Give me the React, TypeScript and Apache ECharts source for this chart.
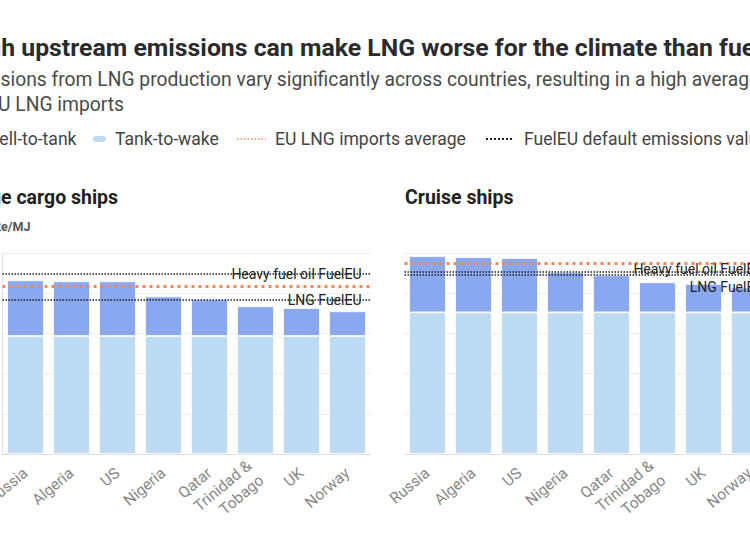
import React, { useEffect, useRef } from "react";
import * as echarts from "echarts";

const categories = ["Russia", "Algeria", "US", "Nigeria", "Qatar", "Trinidad &\nTobago", "UK", "Norway"];

const cargoTankToWake = [58.7, 58.7, 58.7, 58.7, 58.7, 58.7, 58.7, 58.7];
const cargoWellToTank = [27.7, 27.2, 27.2, 19.7, 18.2, 14.8, 13.9, 12.3];
const cruiseTankToWake = [70.5, 70.5, 70.5, 70.5, 70.5, 70.5, 70.5, 70.5];
const cruiseWellToTank = [27.9, 27.4, 27.0, 20.0, 18.4, 14.9, 14.1, 12.3];

// reference lines: [EU LNG imports average, Heavy fuel oil FuelEU, LNG FuelEU]
const cargoRefs = [83.6, 89.8, 76.5];
const cruiseRefs = [94.7, 90.6, 89.0];

const yTicks = [0, 20, 40, 60, 80, 100];

const TITLE = "High upstream emissions can make LNG worse for the climate than fuel oil";
const SUBTITLE_1 = "Emissions from LNG production vary significantly across countries, resulting in a high average";
const SUBTITLE_2 = "for EU LNG imports";
const PANEL_TITLES = ["Large cargo ships", "Cruise ships"];
const UNIT = "gCO2e/MJ";
const LEGEND = ["Well-to-tank", "Tank-to-wake", "EU LNG imports average", "FuelEU default emissions values"];

const C_WTT = "#89a8f0";
const C_TTW = "#bedbf4";
const C_ORANGE = "#f0885a";
const C_BLACK = "#1f1f1f";
const FONT = "Roboto";

function refLines(refs: number[], cruise: boolean) {
  const lbl = { color: "#222", fontSize: 14, fontFamily: FONT };
  return {
    silent: true,
    symbol: ["none", "none"],
    z: 5,
    data: [
      {
        yAxis: refs[0],
        lineStyle: { color: C_ORANGE, width: 3, type: [3, 4] },
        label: { show: false },
      },
      {
        yAxis: refs[1],
        lineStyle: { color: C_BLACK, width: 1.5, type: [1.5, 1.5] },
        label: {
          show: true,
          formatter: "Heavy fuel oil FuelEU",
          position: cruise ? "insideEndTop" : "insideEnd",
          distance: cruise ? [9, -4] : [9, 0],
          ...lbl,
        },
      },
      {
        yAxis: refs[2],
        lineStyle: { color: C_BLACK, width: 1.5, type: [1.5, 1.5] },
        label: {
          show: true,
          formatter: "LNG FuelEU",
          position: cruise ? "insideEndBottom" : "insideEnd",
          distance: cruise ? [9, 5] : [9, 0],
          ...lbl,
        },
      },
    ],
  };
}

export default function App() {
  const ref = useRef<HTMLDivElement>(null);

  useEffect(() => {
    if (!ref.current) return;
    const chart = echarts.init(ref.current, null, { renderer: "svg" });

    const axisX = (i: number) => ({
      type: "category",
      gridIndex: i,
      data: categories,
      axisLine: { lineStyle: { color: "#dcdcdc" } },
      axisTick: { alignWithLabel: true, length: 5, lineStyle: { color: "#dcdcdc" } },
      axisLabel: {
        rotate: 40,
        interval: 0,
        color: "#888888",
        fontSize: 15.5,
        fontFamily: FONT,
        margin: 17,
        lineHeight: 19,
        hideOverlap: false,
      },
    });
    const axisY = (i: number) => ({
      type: "value",
      gridIndex: i,
      min: yTicks[0],
      max: yTicks[yTicks.length - 1],
      interval: yTicks[1] - yTicks[0],
      axisLabel: { show: false },
      axisTick: { show: false },
      axisLine: { show: i === 0, lineStyle: { color: "#e3e3e3" } },
      splitLine: { lineStyle: { color: "#ededed" } },
    });

    const bar = (name: string, data: number[], idx: number, color: string, stack: string, extra: any = {}) => ({
      name,
      type: "bar",
      xAxisIndex: idx,
      yAxisIndex: idx,
      stack,
      data,
      barCategoryGap: "20%",
      itemStyle: { color, borderColor: "#ffffff", borderWidth: 0.8 },
      emphasis: { disabled: true },
      ...extra,
    });

    const text = (t: string, x: number, y: number, size: number, weight: string | number, fill: string) => ({
      type: "text",
      x,
      y,
      silent: true,
      style: { text: t, fontSize: size, fontWeight: weight, fill, fontFamily: FONT, verticalAlign: "middle", align: "left" },
    });

    const legendY = 139;
    const option: any = {
      animation: false,
      backgroundColor: "#ffffff",
      textStyle: { fontFamily: FONT },
      grid: [
        { left: 2.5, top: 253, width: 368, height: 201, outerBoundsMode: "none", containLabel: false },
        { left: 404.5, top: 253, width: 368, height: 201, outerBoundsMode: "none", containLabel: false },
      ],
      xAxis: [axisX(0), axisX(1)],
      yAxis: [axisY(0), axisY(1)],
      series: [
        bar(LEGEND[1], cargoTankToWake, 0, C_TTW, "cargo"),
        bar(LEGEND[0], cargoWellToTank, 0, C_WTT, "cargo", { markLine: refLines(cargoRefs, false) }),
        bar(LEGEND[1], cruiseTankToWake, 1, C_TTW, "cruise"),
        bar(LEGEND[0], cruiseWellToTank, 1, C_WTT, "cruise", { markLine: refLines(cruiseRefs, true) }),
      ],
      graphic: [
        text(TITLE, -37, 47, 24.8, "bold", "#2b2b2b"),
        text(SUBTITLE_1, -42, 79, 19.3, "normal", "#4a4a4a"),
        text(SUBTITLE_2, -42, 104, 19.3, "normal", "#4a4a4a"),
        // legend
        { type: "rect", silent: true, shape: { x: -38, y: legendY - 3, width: 13, height: 6, r: 3 }, style: { fill: C_WTT } },
        text(LEGEND[0], -16, legendY, 17.6, "normal", "#444"),
        { type: "rect", silent: true, shape: { x: 93, y: legendY - 3, width: 13, height: 6, r: 3 }, style: { fill: C_TTW } },
        text(LEGEND[1], 115, legendY, 17.6, "normal", "#444"),
        {
          type: "line",
          silent: true,
          shape: { x1: 237, y1: legendY, x2: 266, y2: legendY },
          style: { stroke: C_ORANGE, lineWidth: 1.5, lineDash: [1.5, 2] },
        },
        text(LEGEND[2], 275, legendY, 17.6, "normal", "#444"),
        {
          type: "line",
          silent: true,
          shape: { x1: 486, y1: legendY, x2: 514, y2: legendY },
          style: { stroke: C_BLACK, lineWidth: 2, lineDash: [2, 2] },
        },
        text(LEGEND[3], 524, legendY, 17.6, "normal", "#444"),
        // panel titles
        text(PANEL_TITLES[0], -38, 197, 19.5, "bold", "#222"),
        text(PANEL_TITLES[1], 405, 197, 19.5, "bold", "#222"),
        text(UNIT, -30, 226, 12.5, "bold", "#555"),
      ],
    };

    chart.setOption(option);
    return () => chart.dispose();
  }, []);

  return (
    <div style={{ position: "fixed", left: 0, top: 0, width: 750, height: 536, overflow: "hidden", background: "#fff" }}>
      <div ref={ref} style={{ width: 750, height: 536 }} />
    </div>
  );
}
